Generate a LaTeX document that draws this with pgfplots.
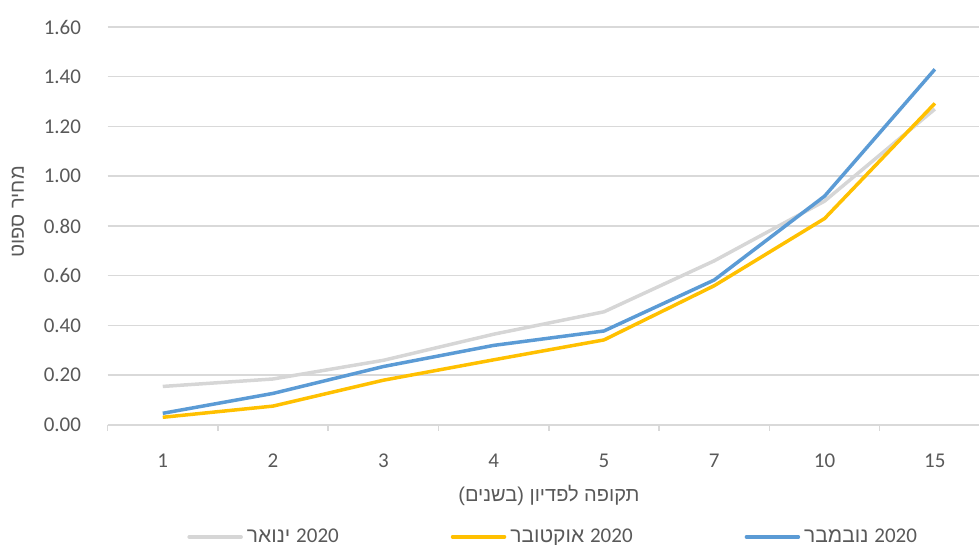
\documentclass[border=0pt]{standalone}
\usepackage{fontspec}
\setmainfont{Carlito}
\newfontfamily\hebfont[Script=Hebrew]{Liberation Sans}
\TeXXeTstate=1
\usepackage{pgfplots}
\pgfplotsset{compat=1.18}

\definecolor{txt}{HTML}{595959}
\definecolor{gridc}{HTML}{D9D9D9}
\definecolor{jan}{HTML}{D6D6D6}
\definecolor{oct}{HTML}{FFC000}
\definecolor{nov}{HTML}{5B9BD5}

% Hebrew legend entry: the year, then the month name, right to left
\newcommand\heblabel[2]{\hebfont\beginR\beginL{\rmfamily #2}\endL{} #1\endR}

\begin{document}
\begin{tikzpicture}
\useasboundingbox (0,0) rectangle (489.5pt,272.5pt);
\begin{axis}[
  at={(53.8pt,60pt)}, anchor=south west,
  scale only axis,
  width=435.7pt, height=199pt,
  xmin=-0.5, xmax=7.4,
  ymin=0, ymax=1.6,
  xtick={0,1,...,7},
  xticklabels={1,2,3,4,5,7,10,15},
  minor xtick={-0.5,0.5,...,6.5},
  ytick={0,0.2,...,1.6},
  ymajorgrids,
  grid style={gridc, line width=0.75pt},
  axis x line*=bottom,
  x axis line style={draw=gridc, line width=0.75pt, -},
  axis y line*=left,
  y axis line style={draw=none},
  major tick style={draw=none},
  minor x tick style={draw=gridc, line width=0.75pt},
  minor tick length=3pt,
  tick align=outside,
  /pgf/number format/assume math mode=true,
  yticklabel={\pgfmathprintnumber[fixed,fixed zerofill,precision=2]{\tick}},
  ticklabel style={font=\fontsize{10.5}{12}\selectfont, text=txt},
  yticklabel style={xshift=-5.5pt},
  xticklabel style={yshift=-6.5pt},
  xlabel={\hebfont\beginR תקופה לפדיון (בשנים)\endR},
  ylabel={\hebfont\beginR מחיר ספוט\endR},
  label style={font=\fontsize{10}{12}\selectfont, text=txt},
  xlabel style={at={(axis description cs:0.5065,-0.178)}, anchor=center},
  ylabel style={at={(axis description cs:-0.103,0.535)}, anchor=center},
  legend columns=3,
  legend style={at={(axis description cs:0.5125,-0.281)}, anchor=center,
    draw=none, fill=none, font=\fontsize{10.5}{12}\selectfont, text=txt,
    /tikz/every even column/.append style={column sep=54pt},
    inner sep=0pt},
  legend image code/.code={\draw[#1, line cap=round] (0pt,0pt) -- (26pt,0pt);},
  every axis plot/.append style={line width=1.75pt, line join=round},
]
\addplot[jan] coordinates {(0,0.155) (1,0.185) (2,0.26) (3,0.365) (4,0.455) (5,0.66) (6,0.90) (7,1.27)};
\addlegendentry{\heblabel{ינואר}{2020}}
\addplot[oct] coordinates {(0,0.031) (1,0.076) (2,0.18) (3,0.262) (4,0.342) (5,0.56) (6,0.83) (7,1.293)};
\addlegendentry{\heblabel{אוקטובר}{2020}}
\addplot[nov] coordinates {(0,0.047) (1,0.127) (2,0.235) (3,0.32) (4,0.378) (5,0.583) (6,0.92) (7,1.43)};
\addlegendentry{\heblabel{נובמבר}{2020}}
\end{axis}
\end{tikzpicture}
\end{document}
